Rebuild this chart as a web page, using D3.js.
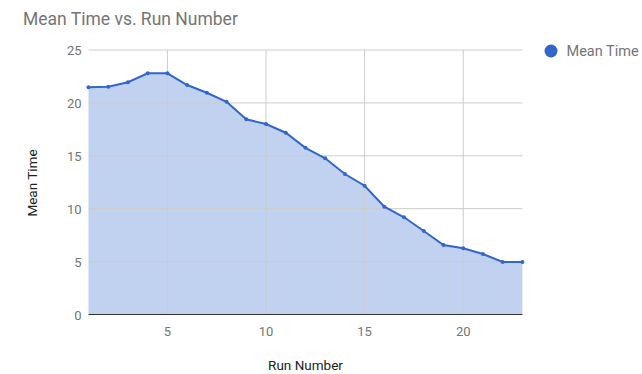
<!DOCTYPE html>
<html>
<head>
<meta charset="utf-8">
<script src="https://cdn.jsdelivr.net/npm/d3@7"></script>
<style>
  body { margin: 0; background: #fff; }
  text { font-family: Roboto, "Noto Sans", sans-serif; }
</style>
</head>
<body>
<script>
// data
const runs = d3.range(1, 24)
const meanTimes = [21.47, 21.53, 21.95, 22.8, 22.8, 21.69, 20.96, 20.11, 18.45, 18.0,
  17.18, 15.75, 14.76, 13.28, 12.17, 10.19, 9.19, 7.89, 6.57, 6.26, 5.72, 4.96, 4.96]
const xTicks = [5, 10, 15, 20]
const yTicks = [0, 5, 10, 15, 20, 25]

const width = 642, height = 374
const margin = { top: 50, right: 120, bottom: 59.5, left: 88.5 }
const blue = "#3366cc"

const svg = d3.select("body").append("svg")
  .attr("width", width)
  .attr("height", height)

const x = d3.scaleLinear().domain([1, 23]).range([margin.left, width - margin.right + 0.4])
const y = d3.scaleLinear().domain([0, 25]).range([height - margin.bottom, margin.top])

const data = runs.map((r, i) => ({ run: r, value: meanTimes[i] }))

// area fill
svg.append("path")
  .datum(data)
  .attr("fill", blue)
  .attr("fill-opacity", 0.3)
  .attr("d", d3.area().x(d => x(d.run)).y0(y(0)).y1(d => y(d.value)))

// gridlines
svg.append("g").selectAll("line")
  .data(yTicks.filter(t => t > 0))
  .join("line")
  .attr("x1", x(1)).attr("x2", x(23))
  .attr("y1", d => y(d)).attr("y2", d => y(d))
  .attr("stroke", "#cccccc")
svg.append("g").selectAll("line")
  .data(xTicks)
  .join("line")
  .attr("x1", d => x(d)).attr("x2", d => x(d))
  .attr("y1", y(0)).attr("y2", y(25))
  .attr("stroke", "#cccccc")

// baseline
svg.append("line")
  .attr("x1", x(1)).attr("x2", x(23))
  .attr("y1", y(0)).attr("y2", y(0))
  .attr("stroke", "#333333")

// line + points
svg.append("path")
  .datum(data)
  .attr("fill", "none")
  .attr("stroke", blue)
  .attr("stroke-width", 2)
  .attr("d", d3.line().x(d => x(d.run)).y(d => y(d.value)))

svg.append("g").selectAll("circle")
  .data(data)
  .join("circle")
  .attr("cx", d => x(d.run))
  .attr("cy", d => y(d.value))
  .attr("r", 2)
  .attr("fill", blue)

// tick labels
svg.append("g").selectAll("text")
  .data(yTicks)
  .join("text")
  .attr("x", x(1) - 7)
  .attr("y", d => y(d) + 5)
  .attr("text-anchor", "end")
  .attr("font-size", 13)
  .attr("fill", "#757575")
  .text(d => d)

svg.append("g").selectAll("text")
  .data(xTicks)
  .join("text")
  .attr("x", d => x(d))
  .attr("y", 335.5)
  .attr("text-anchor", "middle")
  .attr("font-size", 13)
  .attr("fill", "#757575")
  .text(d => d)

// title
svg.append("text")
  .attr("x", 23)
  .attr("y", 25)
  .attr("font-size", 17.5)
  .attr("fill", "#757575")
  .text("Mean Time vs. Run Number")

// axis titles
svg.append("text")
  .attr("x", 305.5)
  .attr("y", 370)
  .attr("text-anchor", "middle")
  .attr("font-size", 13.5)
  .attr("fill", "#222222")
  .text("Run Number")

svg.append("text")
  .attr("transform", "translate(37,183) rotate(-90)")
  .attr("text-anchor", "middle")
  .attr("font-size", 13.5)
  .attr("fill", "#222222")
  .text("Mean Time")

// legend
svg.append("circle")
  .attr("cx", 551)
  .attr("cy", 51)
  .attr("r", 6.5)
  .attr("fill", blue)
svg.append("text")
  .attr("x", 566.5)
  .attr("y", 56)
  .attr("font-size", 14.5)
  .attr("fill", "#757575")
  .text("Mean Time")
</script>
</body>
</html>
